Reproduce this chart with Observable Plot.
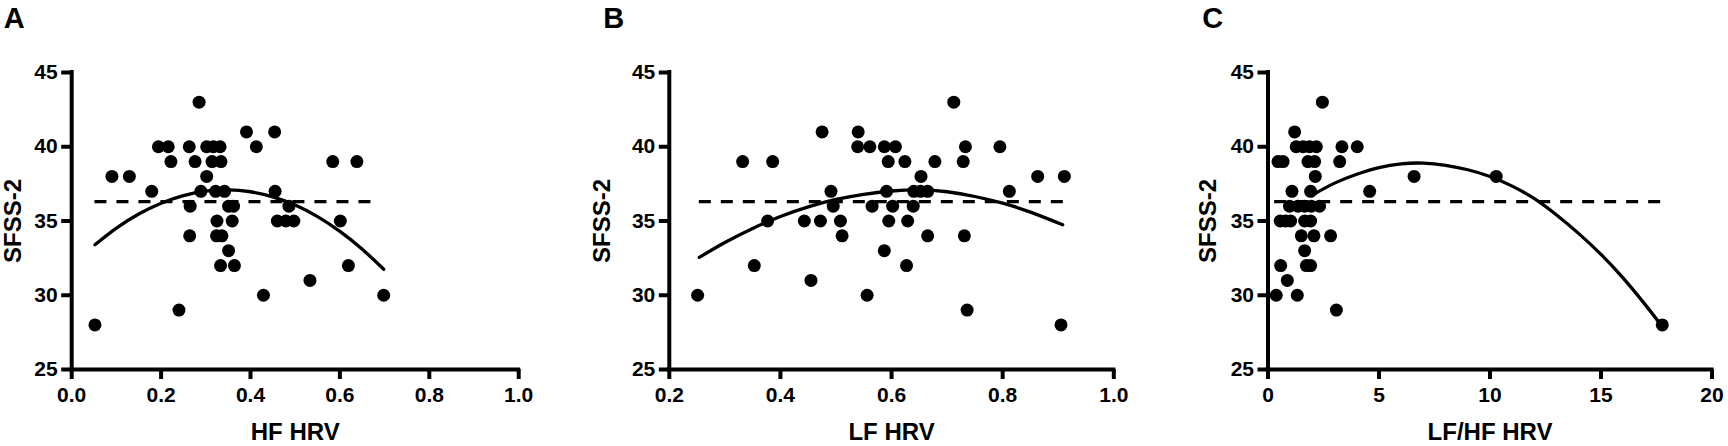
<!DOCTYPE html>
<html><head><meta charset="utf-8">
<script src="https://cdn.jsdelivr.net/npm/d3@7"></script>
<script src="https://cdn.jsdelivr.net/npm/@observablehq/plot@0.6"></script>
<style>
html,body{margin:0;padding:0;background:#fff;}
body{width:1728px;height:446px;overflow:hidden;position:relative;}
.panel{position:absolute;top:0;}
.panel svg{overflow:visible;}
</style></head><body>
<div id="pa" class="panel" style="left:0px"></div>
<div id="pb" class="panel" style="left:560px"></div>
<div id="pc" class="panel" style="left:1140px"></div>
<script>
// shared
const yTicks = [25, 30, 35, 40, 45];
const meanSFSS = 36.3;

// Panel A: HF HRV
const hfX = [0.052,0.090,0.129,0.179,0.194,0.216,0.222,0.240,0.263,0.265,0.264,0.276,0.285,0.289,0.302,0.302,0.317,0.332,0.314,0.334,0.322,0.342,0.325,0.324,0.336,0.333,0.351,0.351,0.362,0.359,0.364,0.391,0.413,0.429,0.454,0.455,0.460,0.479,0.497,0.486,0.533,0.584,0.601,0.619,0.638,0.698];
const hfY = [28,38,38,37,40,40,39,29,40,36,34,39,43,37,38,40,40,40,39,39,37,37,35,34,34,32,33,36,36,35,32,41,40,30,41,37,35,35,35,36,31,39,35,32,39,30];
const hfFitX = [0.052,0.10,0.15,0.20,0.25,0.30,0.35,0.40,0.45,0.50,0.55,0.60,0.65,0.698];
const hfFitY = [33.4,34.52,35.47,36.2,36.71,37.01,37.1,36.97,36.63,36.07,35.29,34.3,33.1,31.75];
const hfMeanX = [0.052, 0.685];
const hfTicks = [0, 0.2, 0.4, 0.6, 0.8, 1.0];

// Panel B: LF HRV
const lfX = [0.251,0.332,0.353,0.377,0.386,0.443,0.455,0.472,0.475,0.491,0.495,0.508,0.511,0.539,0.540,0.561,0.556,0.565,0.587,0.607,0.594,0.591,0.595,0.602,0.587,0.624,0.627,0.629,0.639,0.640,0.652,0.665,0.653,0.665,0.678,0.712,0.729,0.733,0.731,0.736,0.795,0.812,0.863,0.905,0.911];
const lfY = [30,39,32,35,39,35,31,35,41,37,36,35,34,40,41,40,30,36,40,40,39,37,35,36,33,39,32,35,36,37,37,37,38,34,39,43,39,40,34,29,40,37,38,28,38];
const lfFitX = [0.254,0.30,0.35,0.40,0.45,0.50,0.55,0.60,0.65,0.70,0.75,0.80,0.85,0.908];
const lfFitY = [32.55,33.55,34.5,35.3,35.95,36.45,36.8,37.02,37.1,36.97,36.65,36.2,35.6,34.75];
const lfMeanX = [0.254, 0.911];
const lfTicks = [0.2, 0.4, 0.6, 0.8, 1.0];

// Panel C: LF/HF HRV
const ratioX = [0.37,0.45,0.68,0.57,0.55,0.80,1.02,0.87,0.97,1.08,1.20,1.32,1.27,1.58,1.87,2.18,1.80,2.10,2.13,1.92,1.35,1.65,1.95,2.32,1.65,1.92,1.50,2.07,1.65,1.73,1.92,2.45,2.82,3.08,3.23,3.33,4.02,4.58,6.58,10.28,17.76];
const ratioY = [30,39,39,32,35,35,35,31,36,37,41,30,40,40,40,40,39,39,38,37,36,36,36,36,35,35,34,34,33,32,32,43,34,29,39,40,40,37,38,38,28];
const ratioFitX = [2.0,3,4,5,6,7,8,9,10,11,12,13,14,15,16,17,17.7];
const ratioFitY = [36.75,37.55,38.15,38.6,38.85,38.9,38.75,38.45,38.0,37.35,36.5,35.4,34.15,32.75,31.15,29.35,28.0];
const ratioMeanX = [0.3, 17.7];
const ratioTicks = [0, 5, 10, 15, 20];

const FONT = "'Liberation Sans', Arial, Helvetica, sans-serif";

function panel(o) {
  const pts = o.xs.map((x, i) => ({x, y: o.ys[i]}));
  const fit = o.fitX.map((x, i) => ({x, y: o.fitY[i]}));
  const mean = [{y: meanSFSS, x1: o.meanX[0], x2: o.meanX[1]}];
  return Plot.plot({
    width: o.width, height: 446,
    marginLeft: o.marginLeft, marginRight: o.marginRight, marginTop: 72, marginBottom: 77,
    style: {fontFamily: FONT, fontWeight: "bold", fontSize: "21px", color: "#000", background: "#fff", overflow: "visible"},
    x: {domain: o.domain, axis: null},
    y: {domain: [25, 45], axis: null},
    marks: [
      Plot.ruleY(mean, {y: "y", x1: "x1", x2: "x2", stroke: "#000", strokeWidth: 3.3, strokeDasharray: "12,10"}),
      Plot.line(fit, {x: "x", y: "y", curve: "natural", stroke: "#000", strokeWidth: 3.3}),
      Plot.dot(pts, {x: "x", y: "y", r: 6.5, fill: "#000", stroke: "none"}),
      Plot.axisX({ticks: o.ticks, tickFormat: o.fmt, tickSize: 10, tickPadding: 8, strokeWidth: 4, label: null}),
      Plot.axisY({ticks: yTicks, tickFormat: d3.format("d"), tickSize: 10, tickPadding: 4, strokeWidth: 4, label: null}),
      Plot.ruleX([{x: o.domain[0]}], {x: "x", y1: () => 25, y2: () => 45, stroke: "#000", strokeWidth: 4, strokeLinecap: "square"}),
      Plot.ruleY([{y: 25}], {y: "y", x1: () => o.domain[0], x2: () => o.domain[1], stroke: "#000", strokeWidth: 4, strokeLinecap: "square"}),
      Plot.text([o.label], {text: d => d, frameAnchor: "bottom", textAnchor: "middle", lineAnchor: "top", dy: 53, fontSize: 24}),
      Plot.text(["SFSS-2"], {text: d => d, frameAnchor: "left", textAnchor: "middle", lineAnchor: "middle", rotate: -90, dx: o.titleDx, fontSize: 24}),
      Plot.text([o.letter], {text: d => d, frameAnchor: "top-left", textAnchor: "start", lineAnchor: "top", dx: o.letterDx, dy: -64.7, fontSize: 29})
    ]
  });
}

document.getElementById("pa").append(panel({
  letter: "A", xs: hfX, ys: hfY, fitX: hfFitX, fitY: hfFitY, meanX: hfMeanX,
  domain: [0, 1], ticks: hfTicks, fmt: d3.format(".1f"), label: "HF HRV",
  width: 560, marginLeft: 71.2, marginRight: 41.8, titleDx: -58.7, letterDx: -67.9
}));
document.getElementById("pb").append(panel({
  letter: "B", xs: lfX, ys: lfY, fitX: lfFitX, fitY: lfFitY, meanX: lfMeanX,
  domain: [0.2, 1], ticks: lfTicks, fmt: d3.format(".1f"), label: "LF HRV",
  width: 580, marginLeft: 108.8, marginRight: 26.7, titleDx: -67, letterDx: -66.1
}));
document.getElementById("pc").append(panel({
  letter: "C", xs: ratioX, ys: ratioY, fitX: ratioFitX, fitY: ratioFitY, meanX: ratioMeanX,
  domain: [0, 20], ticks: ratioTicks, fmt: d3.format("d"), label: "LF/HF HRV",
  width: 588, marginLeft: 127.5, marginRight: 16.5, titleDx: -59.6, letterDx: -65.8
}));
</script>
</body></html>
